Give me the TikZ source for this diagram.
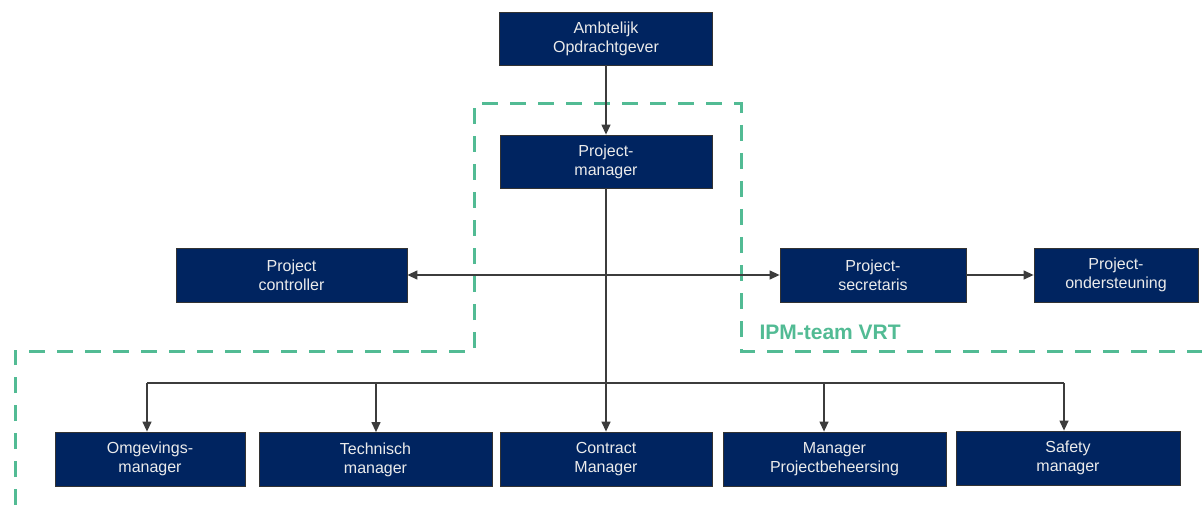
\documentclass[tikz,border=0pt]{standalone}
\usepackage{fontspec}
\setmainfont{Liberation Sans}
\usetikzlibrary{arrows.meta}
\definecolor{navy}{RGB}{0,36,96}
\definecolor{ipmgreen}{RGB}{82,187,148}
\definecolor{linegray}{RGB}{60,60,60}
\tikzset{
  box/.style={draw=black!80, line width=0.8pt, fill=navy, text=white!92!black,
    minimum height=54pt, inner sep=0pt, align=center,
    font=\fontsize{16}{19}\selectfont},
  conn/.style={draw=linegray, line width=1.3pt},
  arr/.style={conn, -{Triangle[length=10pt,width=9pt]}},
  darr/.style={conn, {Triangle[length=10pt,width=9pt]}-{Triangle[length=10pt,width=9pt]}},
  team/.style={draw=ipmgreen, line width=3pt, dash pattern=on 16pt off 12pt}
}
\begin{document}
\begin{tikzpicture}[x=1pt,y=-1pt]
\useasboundingbox (0,0) rectangle (1202,505);
% team boundary
\draw[team] (15,505) -- (15,351) -- (474,351) -- (474,104) -- (741,104) -- (741,351) -- (1202,351);
\node[anchor=base west, text=ipmgreen, font=\fontsize{21}{24}\selectfont\bfseries] (ipm) at (756,339) {IPM-team VRT};
% boxes
\node[box, minimum width=213pt, minimum height=53pt] (amb) at (606,38.5) {Ambtelijk\\Opdrachtgever};
\node[box, minimum width=212pt, minimum height=53pt] (pm) at (606,161.5) {Project-\\manager};
\node[box, minimum width=231pt] (pc) at (291.5,275) {Project\\controller};
\node[box, minimum width=186pt] (ps) at (873,275) {Project-\\secretaris};
\node[box, minimum width=164pt] (po) at (1116,275) {Project-\\ondersteuning};
\node[box, minimum width=190pt] (om) at (150,459) {Omgevings-\\manager};
\node[box, minimum width=233pt] (tm) at (375.5,459.5) {Technisch\\manager};
\node[box, minimum width=212pt] (cm) at (606,459) {Contract\\Manager};
\node[box, minimum width=223pt] (mp) at (834.5,459) {Manager\\Projectbeheersing};
\node[box, minimum width=224pt] (sm) at (1068,458) {Safety\\manager};
% connectors
\draw[arr] (amb.south) -- (pm.north);
\draw[arr] (pm.south) -- (cm.north);
\draw[darr] (pc.east) -- (ps.west);
\draw[arr] (ps.east) -- (po.west);
\coordinate (b1) at (147,383);
\coordinate (b2) at (376,383);
\coordinate (b4) at (824,383);
\coordinate (b5) at (1064,383);
\draw[conn] (b1) -- (b5);
\draw[arr] (b1) -- (b1 |- om.north);
\draw[arr] (b2) -- (b2 |- tm.north);
\draw[arr] (b4) -- (b4 |- mp.north);
\draw[arr] (b5) -- (b5 |- sm.north);
\end{tikzpicture}
\end{document}
